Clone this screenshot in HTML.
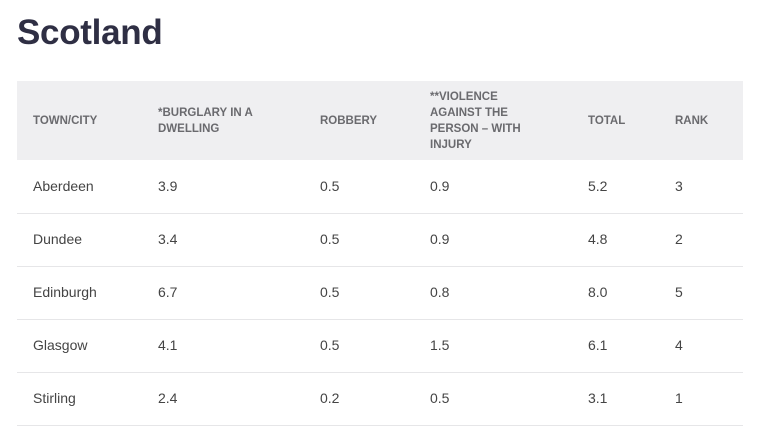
<!DOCTYPE html>
<html><head><style>
body{margin:0;background:#fff;font-family:"Liberation Sans",sans-serif;width:759px;height:440px;overflow:hidden;position:relative}
h1{position:absolute;left:17px;top:13px;margin:0;font-size:35px;font-weight:bold;color:#2f2f44;letter-spacing:-0.3px}
.hd{position:absolute;left:17px;top:81px;width:726px;height:79px;background:#efeff1}
.h{position:absolute;font-size:11.5px;font-weight:bold;color:#6a6a6e;line-height:16px}
.r{position:absolute;left:17px;width:726px;height:53px;border-bottom:1px solid #e6e6e8}
.c{position:absolute;top:18px;font-size:14px;color:#444}
</style></head><body>
<h1>Scotland</h1>
<div class="hd"></div>
<div class="h" style="left:33px;top:113px">TOWN/CITY</div>
<div class="h" style="left:158px;top:105px">*BURGLARY IN A<br>DWELLING</div>
<div class="h" style="left:320px;top:113px">ROBBERY</div>
<div class="h" style="left:430px;top:89px">**VIOLENCE<br>AGAINST THE<br>PERSON – WITH<br>INJURY</div>
<div class="h" style="left:588px;top:113px">TOTAL</div>
<div class="h" style="left:675px;top:113px">RANK</div>

<div class="r" style="top:160px"><div class="c" style="left:16px">Aberdeen</div><div class="c" style="left:141px">3.9</div><div class="c" style="left:303px">0.5</div><div class="c" style="left:413px">0.9</div><div class="c" style="left:571px">5.2</div><div class="c" style="left:658px">3</div></div>
<div class="r" style="top:213px"><div class="c" style="left:16px">Dundee</div><div class="c" style="left:141px">3.4</div><div class="c" style="left:303px">0.5</div><div class="c" style="left:413px">0.9</div><div class="c" style="left:571px">4.8</div><div class="c" style="left:658px">2</div></div>
<div class="r" style="top:266px"><div class="c" style="left:16px">Edinburgh</div><div class="c" style="left:141px">6.7</div><div class="c" style="left:303px">0.5</div><div class="c" style="left:413px">0.8</div><div class="c" style="left:571px">8.0</div><div class="c" style="left:658px">5</div></div>
<div class="r" style="top:319px"><div class="c" style="left:16px">Glasgow</div><div class="c" style="left:141px">4.1</div><div class="c" style="left:303px">0.5</div><div class="c" style="left:413px">1.5</div><div class="c" style="left:571px">6.1</div><div class="c" style="left:658px">4</div></div>
<div class="r" style="top:372px"><div class="c" style="left:16px">Stirling</div><div class="c" style="left:141px">2.4</div><div class="c" style="left:303px">0.2</div><div class="c" style="left:413px">0.5</div><div class="c" style="left:571px">3.1</div><div class="c" style="left:658px">1</div></div>
</body></html>
